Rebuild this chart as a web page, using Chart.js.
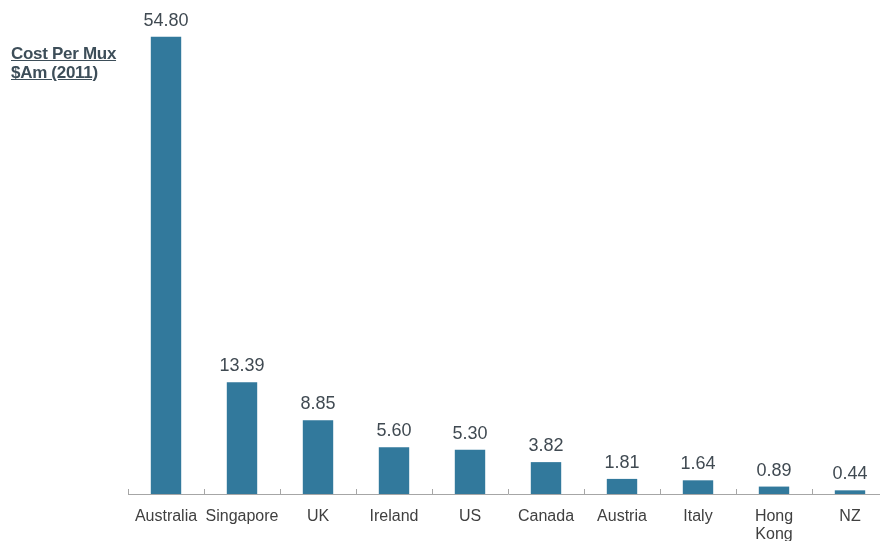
<!DOCTYPE html>
<html><head><meta charset="utf-8">
<script src="https://cdn.jsdelivr.net/npm/chart.js@4/dist/chart.umd.min.js"></script>
<style>
html,body{margin:0;padding:0;background:#fff;overflow:hidden;width:880px;height:541px;}
#wrap{position:relative;width:890px;height:541px;}
#title{position:absolute;left:11px;top:44px;font-family:"Liberation Sans",Arial,sans-serif;font-weight:bold;font-size:17px;line-height:19px;color:#3d4e59;text-decoration:underline;letter-spacing:-0.3px;}
</style></head>
<body>
<div id="wrap"><canvas id="c" width="890" height="541"></canvas>
<div id="title">Cost Per Mux<br>$Am (2011)</div></div>
<script>
const categories = ["Australia","Singapore","UK","Ireland","US","Canada","Austria","Italy",["Hong","Kong"],"NZ"];
const costPerMux = [54.80,13.39,8.85,5.60,5.30,3.82,1.81,1.64,0.89,0.44];
const valueLabels = ["54.80","13.39","8.85","5.60","5.30","3.82","1.81","1.64","0.89","0.44"];

const extras = {
  id:'extras',
  afterDatasetsDraw(chart){
    const ctx = chart.ctx, x = chart.scales.x, area = chart.chartArea;
    ctx.save();
    ctx.strokeStyle = '#a6a6a6'; ctx.lineWidth = 1;
    for(let i=0;i<=categories.length;i++){
      const px = Math.round(x.getPixelForValue(i-0.5))+0.5;
      ctx.beginPath(); ctx.moveTo(px, area.bottom); ctx.lineTo(px, area.bottom-5); ctx.stroke();
    }
    const meta = chart.getDatasetMeta(0);
    ctx.fillStyle = '#404a52';
    ctx.font = '18px "Liberation Sans", Arial, sans-serif';
    ctx.textAlign = 'center'; ctx.textBaseline = 'alphabetic';
    meta.data.forEach((bar,i)=>{
      ctx.fillText(valueLabels[i], bar.x, bar.y-11);
    });
    ctx.restore();
  }
};

new Chart(document.getElementById('c'),{
  type:'bar',
  data:{labels:categories,datasets:[{data:costPerMux,backgroundColor:'#32799c',barPercentage:0.8,categoryPercentage:0.5}]},
  options:{
    responsive:false,animation:false,
    layout:{padding:{left:128,right:2,top:0,bottom:0}},
    plugins:{legend:{display:false},tooltip:{enabled:false}},
    scales:{
      y:{display:false,min:0,max:59.2},
      x:{
        grid:{display:false},
        border:{display:true,color:'#a6a6a6',width:1},
        ticks:{color:'#404040',font:{family:'"Liberation Sans", Arial, sans-serif',size:16,lineHeight:1.15},padding:5,maxRotation:0,autoSkip:false},
        afterFit(s){s.height=47;}
      }
    }
  },
  plugins:[extras]
});
</script>
</body></html>
